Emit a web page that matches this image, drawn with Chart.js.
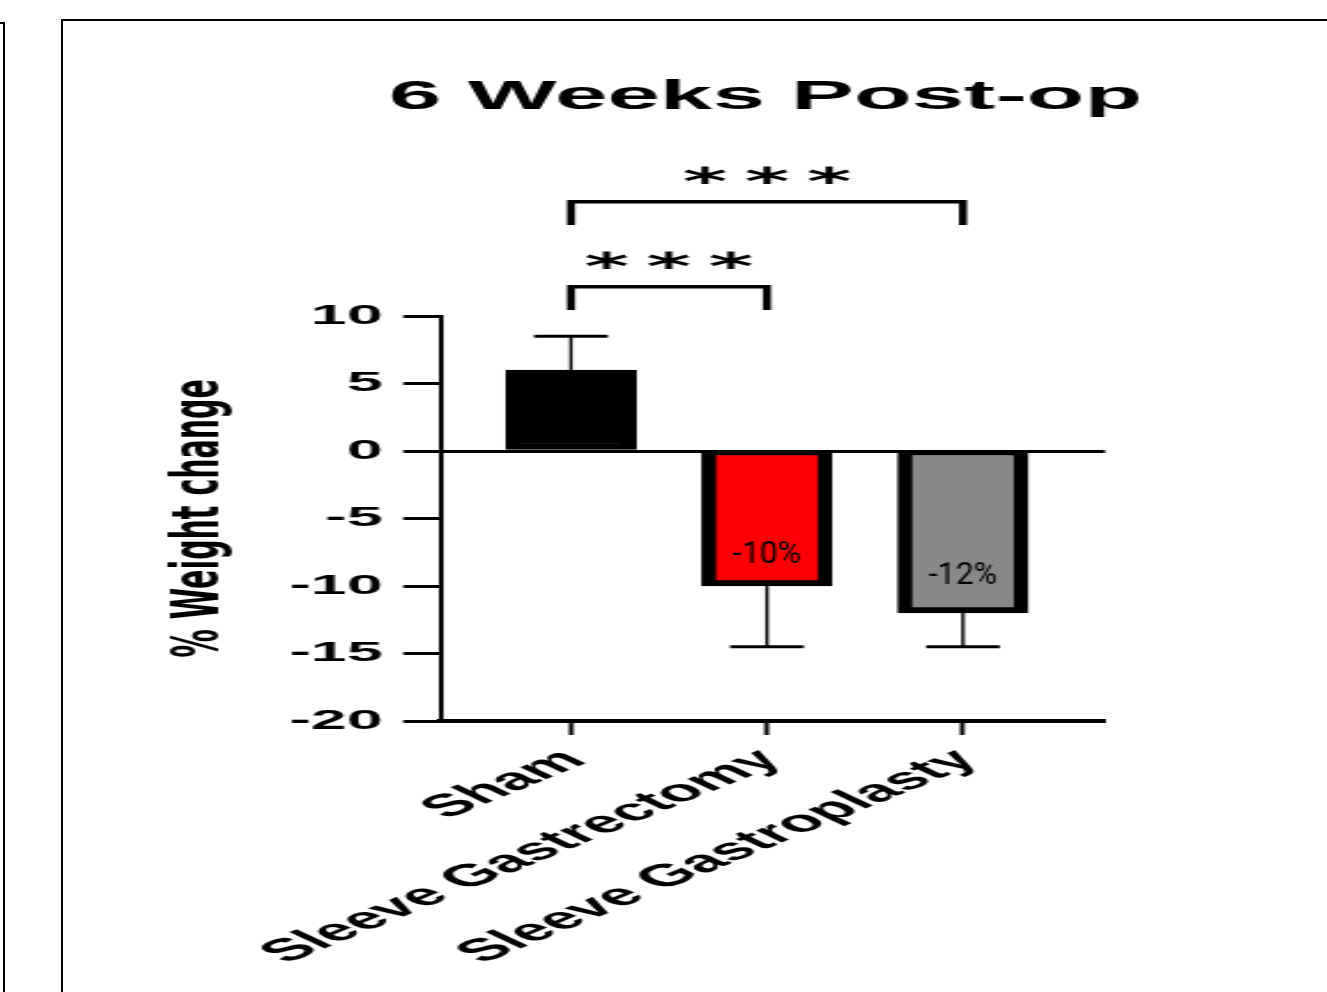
<!DOCTYPE html>
<html>
<head>
<meta charset="utf-8">
<script src="https://cdn.jsdelivr.net/npm/chart.js@4"></script>
<style>
  html, body { margin: 0; padding: 0; background: #fff; overflow: hidden; }
  body { width: 1327px; height: 992px; position: relative; }
  .edge { position: absolute; left: -10px; top: 22px; width: 11px; height: 1100px; border: 2px solid #000; }
  .panel { position: absolute; left: 61px; top: 19px; width: 2000px; height: 2000px; border: 2px solid #000; }
  /* the plot is drawn narrow and widened, like the scanned figure */
  #weight { position: absolute; left: 64px; top: 21px; transform: scaleX(2.3); transform-origin: 0 0; }
</style>
</head>
<body>
<div class="edge"></div>
<div class="panel"></div>
<canvas id="weight" width="610" height="971"></canvas>
<script>
const STRETCH = 2.3;

const categories = ['Sham', 'Sleeve Gastrectomy', 'Sleeve Gastroplasty'];
const weightChange = [6, -10, -12];      // % change at 6 weeks
const errorSize = [2.5, 4.5, 2.5];       // whisker length, away from zero
const barColors = ['#000000', '#fb0006', '#888888'];
const yMin = -20;
const yMax = 10;
const yStep = 5;
// pairs compared, bracket height and star height (in % units)
const comparisons = [
    { from: 0, to: 1, level: 12.17, tip: 10.44, starsAt: 14.0, text: '***' },
    { from: 0, to: 2, level: 18.47, tip: 16.74, starsAt: 20.3, text: '***' }
];

const points = weightChange.map((v, i) => ({ x: i, y: v }));

const errorBars = {
    id: 'errorBars',
    afterDatasetsDraw(chart) {
        const { ctx, scales: { x, y } } = chart;
        ctx.save();
        ctx.strokeStyle = '#000';
        weightChange.forEach((v, i) => {
            const px = x.getPixelForValue(i);
            const end = v + Math.sign(v) * errorSize[i];
            const y0 = y.getPixelForValue(v);
            const y1 = y.getPixelForValue(end);
            ctx.lineWidth = 1.4;
            ctx.beginPath();
            ctx.moveTo(px, y0);
            ctx.lineTo(px, y1);
            ctx.stroke();
            ctx.lineWidth = 3;
            ctx.beginPath();
            ctx.moveTo(px - 16, y1);
            ctx.lineTo(px + 16, y1);
            ctx.stroke();
        });
        ctx.restore();
    }
};

const valueLabels = {
    id: 'valueLabels',
    afterDatasetsDraw(chart) {
        const { ctx, scales: { x, y } } = chart;
        ctx.save();
        ctx.fillStyle = '#000';
        ctx.font = '32px Roboto';
        ctx.textAlign = 'center';
        ctx.textBaseline = 'middle';
        weightChange.forEach((v, i) => {
            if (v >= 0) return;
            ctx.save();
            ctx.translate(x.getPixelForValue(i), y.getPixelForValue(v * 0.77));
            ctx.scale(1 / STRETCH, 1);   // keep these labels at normal width
            ctx.fillText(v + '%', 0, 0);
            ctx.restore();
        });
        ctx.restore();
    }
};

const significance = {
    id: 'significance',
    afterDraw(chart) {
        const { ctx, scales: { x, y } } = chart;
        ctx.save();
        ctx.strokeStyle = '#000';
        ctx.fillStyle = '#000';
        ctx.lineWidth = 3.5;
        ctx.font = 'bold 37px "DejaVu Sans"';
        ctx.textAlign = 'center';
        ctx.textBaseline = 'middle';
        comparisons.forEach(c => {
            const x0 = x.getPixelForValue(c.from);
            const x1 = x.getPixelForValue(c.to);
            const yl = y.getPixelForValue(c.level);
            const yt = y.getPixelForValue(c.tip);
            ctx.beginPath();
            ctx.moveTo(x0, yt);
            ctx.lineTo(x0, yl);
            ctx.lineTo(x1, yl);
            ctx.lineTo(x1, yt);
            ctx.stroke();
            const mid = (x0 + x1) / 2;
            const ys = y.getPixelForValue(c.starsAt) + 7;
            const n = c.text.length;
            for (let k = 0; k < n; k++) {
                ctx.fillText(c.text[k], mid + (k - (n - 1) / 2) * 27, ys);
            }
        });
        ctx.restore();
    }
};

new Chart(document.getElementById('weight'), {
    type: 'bar',
    data: {
        datasets: [{
            data: points,
            backgroundColor: barColors,
            borderColor: '#000',
            borderWidth: { left: 6.5, right: 6.5, top: 3, bottom: 6 },
            borderSkipped: false,
            barThickness: 56.5
        }]
    },
    options: {
        responsive: false,
        animation: false,
        devicePixelRatio: 1,
        layout: { padding: 0 },
        plugins: {
            legend: { display: false },
            tooltip: { enabled: false },
            title: {
                display: true,
                text: '6 Weeks Post-op',
                color: '#000',
                font: { family: 'Liberation Sans', size: 41, weight: 'bold', lineHeight: 1.2 },
                padding: { top: 52.4, bottom: 193.4 }
            }
        },
        scales: {
            x: {
                type: 'linear',
                offset: false,
                min: -0.668,
                max: 2.725,
                afterBuildTicks: s => {
                    s.ticks = s.ticks.filter(t => Number.isInteger(t.value) && t.value >= 0 && t.value < categories.length);
                },
                afterFit: s => { s.height = 271; },
                border: { display: true, color: '#000', width: 4 },
                grid: { offset: false, drawOnChartArea: false, drawTicks: true, tickLength: 14, tickWidth: 2, tickColor: '#000' },
                ticks: {
                    stepSize: 1,
                    includeBounds: false,
                    autoSkip: false,
                    minRotation: 43,
                    maxRotation: 43,
                    padding: 7,
                    labelOffset: 2,
                    color: '#000',
                    font: { family: 'Liberation Sans', size: 31, weight: 'bold' },
                    callback: v => categories[v]
                }
            },
            y: {
                min: yMin,
                max: yMax,
                afterFit: s => { s.width = 163.5; },
                border: { display: true, color: '#000', width: 2 },
                grid: {
                    drawOnChartArea: true,
                    drawTicks: true,
                    tickLength: 16,
                    tickWidth: 3,
                    tickColor: '#000',
                    lineWidth: 3,
                    color: c => (c.tick && c.tick.value === 0) ? '#000' : 'rgba(0,0,0,0)'
                },
                ticks: {
                    stepSize: yStep,
                    padding: 9,
                    color: '#000',
                    font: { family: 'Liberation Sans', size: 28, weight: 'bold' }
                },
                title: {
                    display: true,
                    text: '% Weight change',
                    color: '#000',
                    font: { family: 'DejaVu Sans', size: 28.5, weight: 'bold' },
                    padding: { top: 42, bottom: 0 }
                }
            },
            // empty margin on the right so the title centres over the plot
            margin: {
                position: 'right',
                afterFit: s => { s.width = 157.4; },
                grid: { display: false },
                border: { display: false },
                ticks: { display: false }
            }
        }
    },
    plugins: [errorBars, valueLabels, significance]
});
</script>
</body>
</html>
